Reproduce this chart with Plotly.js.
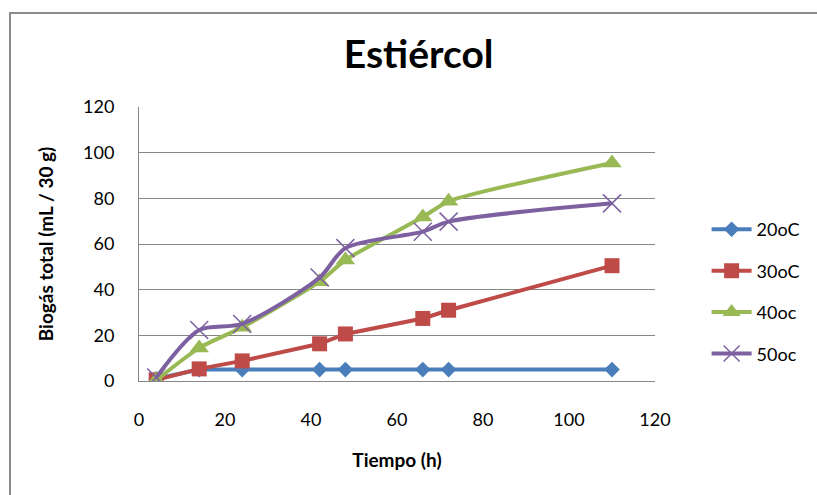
<!DOCTYPE html>
<html>
<head>
<meta charset="utf-8">
<script src="https://cdn.plot.ly/plotly-3.0.1.min.js"></script>
<style>
  html, body { margin: 0; padding: 0; background: #fff; overflow: hidden; }
  #wrap { position: relative; width: 817px; height: 495px; }
  #chart { width: 817px; height: 495px; }
  #frame { position: absolute; left: 9px; top: 12px; width: 900px; height: 600px;
           border-left: 2px solid #8c8c8c; border-top: 2px solid #8c8c8c; pointer-events: none; }
</style>
</head>
<body>
<div id="wrap"><div id="chart"></div><div id="frame"></div></div>
<script>
const tiempo = [4, 14, 24, 42, 48, 66, 72, 110];
const s20 = [1, 5, 5, 5, 5, 5, 5, 5];
const s30 = [0.5, 5.3, 8.8, 16.3, 20.6, 27.4, 31, 50.5];
const s40 = [0.3, 14.5, 23.5, 43.5, 53, 71.8, 78.7, 95.5];
const s50 = [1.5, 22.3, 25, 45.3, 58.2, 65.4, 69.8, 77.8];
const seriesNames = ['20oC', '30oC', '40oc', '50oc'];
const xTicks = [0, 20, 40, 60, 80, 100, 120];
const yTicks = [0, 20, 40, 60, 80, 100, 120];

const FONT = 'Lato, "Open Sans", sans-serif';

const traces = [
  { x: tiempo, y: s20, name: seriesNames[0], legendgroup: 'a', type: 'scatter', mode: 'lines+markers',
    line: { color: '#4A7EBB', width: 4 }, marker: { symbol: 'diamond', size: 12, color: '#4A7EBB' } },
  { x: tiempo, y: s30, name: seriesNames[1], legendgroup: 'b', type: 'scatter', mode: 'lines+markers',
    line: { color: '#BE4B48', width: 4 }, marker: { symbol: 'square', size: 15, color: '#BE4B48' } },
  { x: tiempo, y: s40, name: seriesNames[2], legendgroup: 'c', type: 'scatter', mode: 'lines+markers',
    line: { color: '#98B954', width: 4, shape: 'spline', smoothing: 0.6 }, marker: { symbol: 'triangle-up', size: 17, color: '#98B954' } },
  { x: tiempo, y: s50, name: seriesNames[3], legendgroup: 'd', type: 'scatter', mode: 'lines+markers',
    line: { color: '#7D60A0', width: 4, shape: 'spline', smoothing: 0.8 },
    marker: { symbol: 'x-thin', size: 18, color: '#7D60A0', line: { color: '#7D60A0', width: 1.5 } } }
];

const layout = {
  width: 817, height: 495,
  margin: { l: 139, r: 160, t: 107, b: 114 },
  paper_bgcolor: 'rgba(0,0,0,0)', plot_bgcolor: '#fff',
  font: { family: FONT, color: '#000', size: 18 },
  title: { text: '<b>Estiércol</b>', font: { family: FONT, size: 39, color: '#000' },
           x: 0.542, xref: 'paper', xanchor: 'center', y: 0.89, yref: 'container', yanchor: 'middle' },
  xaxis: {
    range: [0, 120], tickvals: xTicks, ticktext: xTicks.map(String), showgrid: false, zeroline: false,
    showline: true, linecolor: '#868686', linewidth: 1, ticks: '', ticklabelstandoff: 22,
    tickfont: { size: 18, family: FONT },
    title: { text: '<b>Tiempo (h)</b>', font: { size: 19, family: FONT }, standoff: 25 }
  },
  yaxis: {
    range: [0, 120], tickvals: yTicks, ticktext: yTicks.map(String), showgrid: true, gridcolor: '#868686', gridwidth: 1,
    zeroline: false, showline: true, linecolor: '#868686', linewidth: 1, ticks: '', ticklabelstandoff: 20,
    tickfont: { size: 18, family: FONT },
    title: { text: '<b>Biogás total (mL / 30 g)</b>', font: { size: 19, family: FONT }, standoff: 24 }
  },
  legend: { x: 1.10, xanchor: 'left', y: 0.62, yanchor: 'top', tracegroupgap: 15,
            font: { size: 18, family: FONT }, bgcolor: 'rgba(0,0,0,0)', itemwidth: 40 },
  showlegend: true
};

Plotly.newPlot('chart', traces, layout, { staticPlot: true, displayModeBar: false });
</script>
</body>
</html>
